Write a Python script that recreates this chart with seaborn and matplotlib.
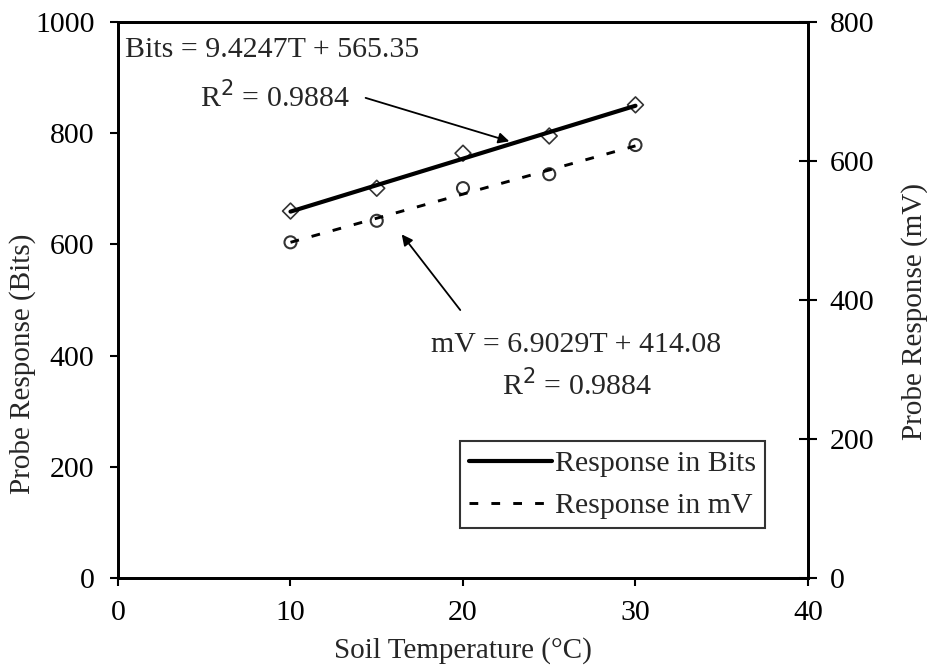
import matplotlib
matplotlib.use("Agg")
import matplotlib.pyplot as plt
from matplotlib.lines import Line2D
import seaborn as sns
import pandas as pd

# data
temperature = [10, 15, 20, 25, 30]
bits = [660, 701, 764, 795, 851]
mv = [483, 514, 561, 581, 623]

sns.set_style("white")
plt.rcParams['font.family'] = ['Liberation Serif', 'DejaVu Serif']

df = pd.DataFrame({'T': temperature, 'Bits': bits, 'mV': mv})

fig = plt.figure(figsize=(9.27, 6.65), dpi=100)
ax = fig.add_axes([0.1273, 0.1308, 0.7443, 0.8361])
ax2 = ax.twinx()

dash = (3, 4.5)
sns.regplot(data=df, x='T', y='Bits', ax=ax, ci=None, marker='D',
            scatter_kws={'s': 65, 'facecolors': 'none', 'edgecolors': 'black', 'linewidths': 1.2},
            line_kws={'color': 'black', 'lw': 3})
sns.regplot(data=df, x='T', y='mV', ax=ax2, ci=None, marker='o',
            scatter_kws={'s': 75, 'facecolors': 'none', 'edgecolors': 'black', 'linewidths': 1.5},
            line_kws={'color': 'black', 'lw': 2.1, 'dashes': dash})

ax.set_xlim(0, 40)
ax.set_ylim(0, 1000)
ax2.set_ylim(0, 800)
ax.set_xticks([0, 10, 20, 30, 40])
ax.set_yticks(range(0, 1001, 200))
ax2.set_yticks(range(0, 801, 200))

for a in (ax, ax2):
    for s in a.spines.values():
        s.set_color('black')
        s.set_linewidth(2)

ax.tick_params(axis='y', direction='out', length=6, width=1.5, labelsize=21.5, colors='black', left=True, pad=11)
ax.tick_params(axis='x', direction='out', length=6, width=1.5, labelsize=21.5, colors='black', bottom=True, pad=10)
ax2.tick_params(axis='y', direction='inout', length=13, width=1.5, labelsize=21.5, colors='black', right=True, pad=9)

ax.set_xlabel('Soil Temperature (\u00b0C)', fontsize=21, labelpad=8)
ax.set_ylabel('Probe Response (Bits)', fontsize=21)
ax2.set_ylabel('Probe Response (mV)', fontsize=21)
ax.yaxis.set_label_coords(-0.119, 0.385)
ax2.yaxis.set_label_coords(1.135, 0.48)

ax.text(0.4, 950, 'Bits = 9.4247T + 565.35', fontsize=21.5, ha='left', va='center')
ax.text(4.75, 865, 'R$^2$ = 0.9884', fontsize=21.5, ha='left', va='center')
ax.annotate('', xy=(22.84, 784), xytext=(14.2, 865),
            arrowprops=dict(arrowstyle='-|>', color='black', lw=1.3, mutation_scale=16))

ax.text(26.55, 419, 'mV = 6.9029T + 414.08', fontsize=21.5, ha='center', va='center')
ax.text(26.6, 347, 'R$^2$ = 0.9884', fontsize=21.5, ha='center', va='center')
ax.annotate('', xy=(16.35, 622), xytext=(19.94, 478),
            arrowprops=dict(arrowstyle='-|>', color='black', lw=1.3, mutation_scale=16))

handles = [Line2D([], [], color='black', lw=3),
           Line2D([], [], color='black', lw=2.1, dashes=dash)]
leg = ax.legend(handles, ['Response in Bits', 'Response in mV'], loc='lower right',
                bbox_to_anchor=(0.938, 0.09), fontsize=21.5, frameon=True, fancybox=False,
                handlelength=2.8, handletextpad=0.1, borderpad=0.3, labelspacing=0.5,
                borderaxespad=0)
leg.get_frame().set_edgecolor('black')
leg.get_frame().set_linewidth(1.5)

fig.savefig('out.png', dpi=100)
